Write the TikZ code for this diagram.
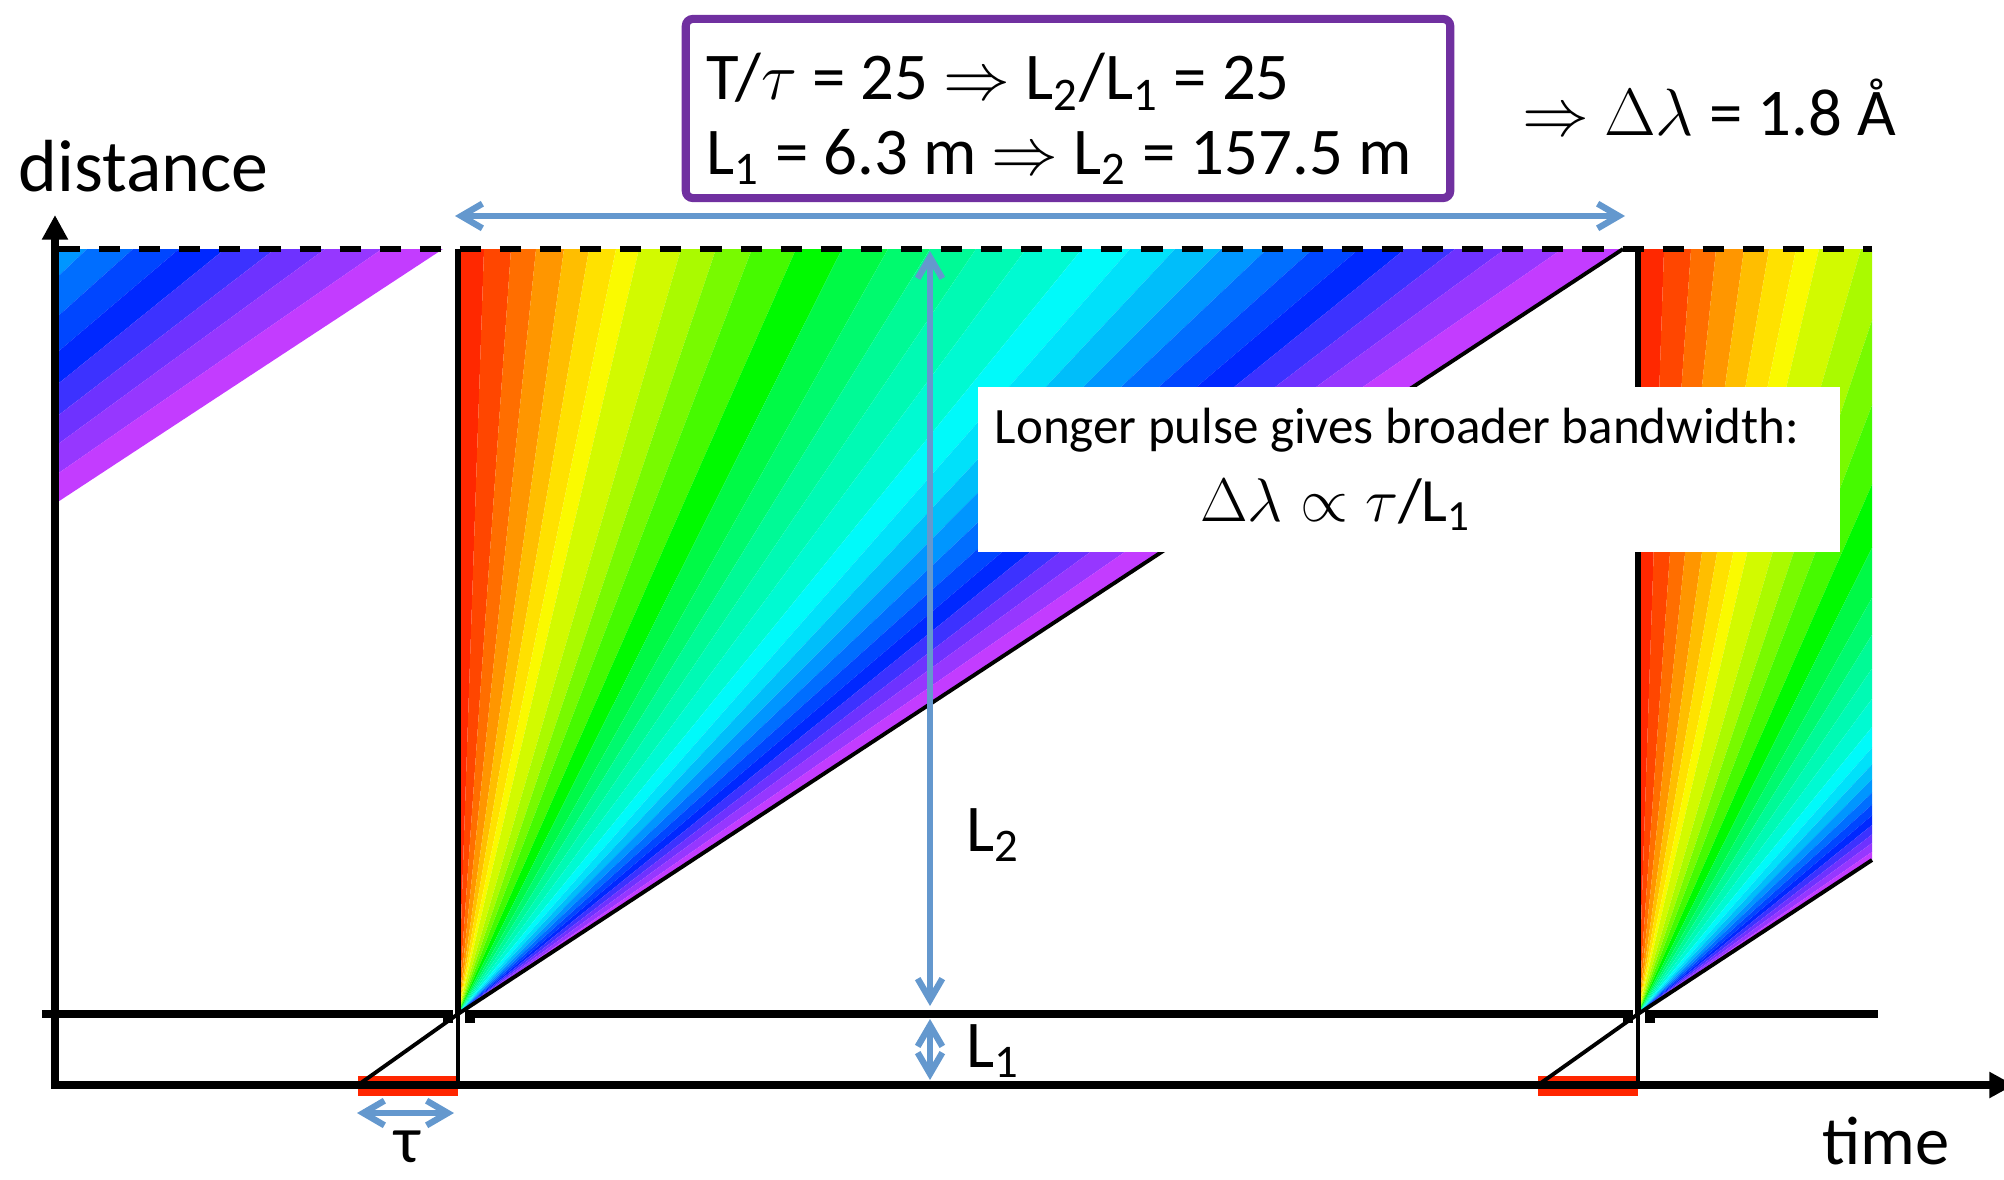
\RequirePackage{fix-cm}
\documentclass[tikz,border=0pt]{standalone}
\usepackage{fontspec}
\setmainfont{Carlito}
\usetikzlibrary{arrows.meta,calc}
\definecolor{pulsered}{RGB}{255,38,0}
\definecolor{arrowblue}{RGB}{100,152,206}
\definecolor{boxpurple}{RGB}{112,48,160}

\begin{document}
\begin{tikzpicture}[x=0.01cm,y=-0.01cm,
  big/.style={font=\fontsize{19}{22}\selectfont},
  note/.style={font=\fontsize{14.5}{17}\selectfont},
  axis/.style={line width=2.3pt,{Triangle[length=7pt,width=7pt]}-{Triangle[length=7pt,width=7pt]}},
  thinline/.style={line width=1.1pt},
  span/.style={arrowblue,line width=1.8pt,{Straight Barb[length=6pt,width=7pt]}-{Straight Barb[length=6pt,width=7pt]}}]
  \useasboundingbox (0,0) rectangle (2004,1179);

  \coordinate (apexA) at (458,1014);
  \coordinate (apexB) at (1638,1014);
  \coordinate (topA) at (1623,249);
  \coordinate (edgeB) at (1872,860);
  \coordinate (startA) at (358,1085);
  \coordinate (startB) at (1538,1085);

  % one colour band per ray, same fan repeated every period
  \begin{scope}
    \clip (59,249) rectangle (1872,1014);
    \foreach \xa/\xb/\rd/\gn/\bl in {458/484/255/40/0, 484/511/255/70/0, 511/536/255/110/0,
        536/564/255/150/0, 564/589/255/190/0, 589/616/255/225/0, 616/639/250/250/0,
        639/681/210/250/0, 681/716/170/250/0, 716/752/120/250/0, 752/796/70/250/0,
        796/842/0/250/0, 842/888/0/250/70, 888/930/0/250/110, 930/976/0/250/150,
        976/1026/0/250/180, 1026/1082/0/250/210, 1082/1130/0/250/250, 1130/1175/0/225/250,
        1175/1221/0/190/250, 1221/1267/0/150/255, 1267/1313/0/110/255, 1313/1359/0/70/255,
        1359/1405/0/40/255, 1405/1455/60/50/255, 1455/1505/110/50/255, 1505/1562/150/55/255,
        1562/1623/195/60/255}{
      \definecolor{band}{RGB}{\rd,\gn,\bl}
      \foreach \dx in {-1180,0,1180}
        \fill[band] ($(apexA)+(\dx,0)$) -- (\xa+\dx,249) -- (\xb+\dx,249) -- cycle;
    }
  \end{scope}

  \draw[line width=1.7pt,dash pattern=on 6pt off 5.4pt] (59,249) -- (1872,249);
  \draw[line width=1.5pt] (apexA) -- (458,249);
  \draw[line width=1.5pt] (apexB) -- (1638,249);
  \draw[thinline] (apexA) -- (topA);
  \draw[thinline] (apexB) -- (edgeB);

  % pulses
  \fill[pulsered] (358,1076) rectangle (458,1096);
  \fill[pulsered] (1538,1076) rectangle (1638,1096);
  \draw[thinline] (startA) -- (apexA) -- (458,1085);
  \draw[thinline] (startB) -- (apexB) -- (1638,1085);

  \node[big,anchor=base west] (lenB) at (954,1067) {L\textsubscript{1}};
  \node[big,anchor=base west] (lenA) at (954,851) {L\textsubscript{2}};

  \draw[axis] (55,215) -- (55,1085) -- (2014,1085);
  \draw[line width=2.3pt] (42,1014) -- (453,1014);
  \draw[line width=2.3pt] (465,1014) -- (1633,1014);
  \draw[line width=2.3pt] (1645,1014) -- (1878,1014);
  \foreach \tx in {443,465,1623,1645}
    \fill (\tx,1014) rectangle (\tx+10,1023);

  \coordinate (spanL) at (455,216);
  \coordinate (spanR) at (1625,216);
  \coordinate (lenTop) at (930,251);
  \coordinate (lenMid) at (930,1006);
  \coordinate (shortTop) at (930,1019);
  \coordinate (shortBot) at (930,1080);
  \coordinate (tauL) at (357,1113);
  \coordinate (tauR) at (454,1113);
  \draw[span] (spanL) -- (spanR);
  \draw[span] (lenTop) -- (lenMid);
  \draw[span] (shortTop) -- (shortBot);
  \draw[span] (tauL) -- (tauR);

  \node[big,anchor=base] (taulbl) at (407,1162) {τ};
  \node[font=\fontsize{21}{24}\selectfont,anchor=base west] (distlbl) at (6,192) {distance};
  \node[font=\fontsize{19.5}{22}\selectfont,anchor=base west] (timelbl) at (1810,1164) {time};

  \node[draw=boxpurple,line width=2.3pt,rounded corners=2pt,minimum width=7.64cm,minimum height=1.79cm] (condbox) at (1068,108.5) {};
  \node[big,inner sep=0pt,anchor=base west] (condA) at (706,100) {T/$\tau$ = 25 $\Rightarrow$ L\textsubscript{2}/L\textsubscript{1} = 25};
  \node[big,inner sep=0pt,anchor=base west] (condB) at (706,174) {L\textsubscript{1} = 6.3 m $\Rightarrow$ L\textsubscript{2} = 157.5 m};
  \node[big,anchor=base west] (result) at (1510,136) {$\Rightarrow$ $\Delta\lambda$ = 1.8 Å};

  \node[fill=white,minimum width=8.62cm,minimum height=1.65cm] (notebox) at (1409,469.5) {};
  \node[note,anchor=base] (noteA) at (1397,443) {Longer pulse gives broader bandwidth:};
  \node[font=\fontsize{17.5}{20}\selectfont,anchor=base west] (noteB) at (1188,521) {$\Delta\lambda \propto \tau$/L\textsubscript{1}};
\end{tikzpicture}
\end{document}
